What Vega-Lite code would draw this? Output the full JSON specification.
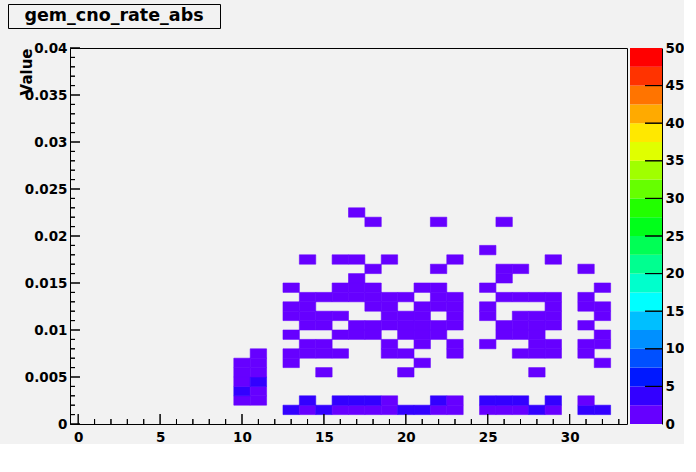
{
  "$schema": "https://vega.github.io/schema/vega-lite/v6.json",
  "background": "#f2f2f2",
  "padding": {"left": 7, "top": 3, "right": 0, "bottom": 0},
  "spacing": 12,
  "config": {
    "font": "DejaVu Sans",
    "view": {"stroke": null},
    "axis": {"grid": false, "ticks": false, "domainColor": "black", "labelColor": "black", "labelFont": "DejaVu Sans", "labelFontWeight": "bold", "labelFontSize": 13.5, "labelFlush": false, "labelOverlap": false, "domainWidth": 1}
  },
  "vconcat": [
    {
      "width": 212,
      "height": 24,
      "view": {"stroke": "black", "strokeWidth": 1, "fill": "#f2f2f2"},
      "data": {"values": [{"name": "gem_cno_rate_abs"}]},
      "mark": {"type": "text", "font": "DejaVu Sans", "fontWeight": "bold", "fontSize": 17.5, "baseline": "middle", "align": "center", "color": "black"},
      "encoding": {"text": {"field": "name", "type": "nominal"}}
    },
    {
      "spacing": 3,
      "bounds": "flush",
      "resolve": {"scale": {"color": "independent", "y": "independent", "x": "independent"}},
      "hconcat": [
        {
          "width": 59,
          "height": 376,
          "data": {"values": [{"y0": 0}, {"y0": 0.04}]},
          "mark": {"type": "tick", "opacity": 0},
          "encoding": {
            "y": {
              "field": "y0", "type": "quantitative",
              "scale": {"domain": [0, 0.04], "nice": false, "zero": false},
              "axis": {
                "orient": "left",
                "offset": -62,
                "domain": false,
                "values": [0, 0.005, 0.01, 0.015, 0.02, 0.025, 0.03, 0.035, 0.04],
                "labelExpr": "format(datum.value, '~g')",
                "labelPadding": 3,
                "title": "Value",
                "titleX": -39,
                "titleY": 0,
                "titleAngle": -90,
                "titleAlign": "right",
                "titleBaseline": "alphabetic",
                "titleFont": "DejaVu Sans",
                "titleFontWeight": "bold",
                "titleFontSize": 15,
                "titleColor": "black"
              }
            }
          }
        },
        {
          "width": 557,
          "height": 376,
          "view": {"stroke": "black", "strokeWidth": 1},
          "layer": [
            {
              "data": {"values": [
                {"x0":12.5,"x1":13.5,"y0":0.001,"y1":0.002,"v":3},
                {"x0":13.5,"x1":14.5,"y0":0.001,"y1":0.002,"v":1},
                {"x0":14.5,"x1":15.5,"y0":0.001,"y1":0.002,"v":3},
                {"x0":15.5,"x1":16.5,"y0":0.001,"y1":0.002,"v":1},
                {"x0":16.5,"x1":17.5,"y0":0.001,"y1":0.002,"v":1},
                {"x0":17.5,"x1":18.5,"y0":0.001,"y1":0.002,"v":1},
                {"x0":18.5,"x1":19.5,"y0":0.001,"y1":0.002,"v":1},
                {"x0":19.5,"x1":20.5,"y0":0.001,"y1":0.002,"v":3},
                {"x0":20.5,"x1":21.5,"y0":0.001,"y1":0.002,"v":3},
                {"x0":21.5,"x1":22.5,"y0":0.001,"y1":0.002,"v":1},
                {"x0":22.5,"x1":23.5,"y0":0.001,"y1":0.002,"v":1},
                {"x0":24.5,"x1":25.5,"y0":0.001,"y1":0.002,"v":1},
                {"x0":25.5,"x1":26.5,"y0":0.001,"y1":0.002,"v":1},
                {"x0":26.5,"x1":27.5,"y0":0.001,"y1":0.002,"v":1},
                {"x0":27.5,"x1":28.5,"y0":0.001,"y1":0.002,"v":3},
                {"x0":28.5,"x1":29.5,"y0":0.001,"y1":0.002,"v":1},
                {"x0":30.5,"x1":31.5,"y0":0.001,"y1":0.002,"v":3},
                {"x0":31.5,"x1":32.5,"y0":0.001,"y1":0.002,"v":3},
                {"x0":9.5,"x1":10.5,"y0":0.002,"y1":0.003,"v":1},
                {"x0":10.5,"x1":11.5,"y0":0.002,"y1":0.003,"v":1},
                {"x0":13.5,"x1":14.5,"y0":0.002,"y1":0.003,"v":3},
                {"x0":15.5,"x1":16.5,"y0":0.002,"y1":0.003,"v":3},
                {"x0":16.5,"x1":17.5,"y0":0.002,"y1":0.003,"v":3},
                {"x0":17.5,"x1":18.5,"y0":0.002,"y1":0.003,"v":3},
                {"x0":18.5,"x1":19.5,"y0":0.002,"y1":0.003,"v":1},
                {"x0":21.5,"x1":22.5,"y0":0.002,"y1":0.003,"v":3},
                {"x0":22.5,"x1":23.5,"y0":0.002,"y1":0.003,"v":1},
                {"x0":24.5,"x1":25.5,"y0":0.002,"y1":0.003,"v":3},
                {"x0":25.5,"x1":26.5,"y0":0.002,"y1":0.003,"v":3},
                {"x0":26.5,"x1":27.5,"y0":0.002,"y1":0.003,"v":3},
                {"x0":28.5,"x1":29.5,"y0":0.002,"y1":0.003,"v":3},
                {"x0":30.5,"x1":31.5,"y0":0.002,"y1":0.003,"v":1},
                {"x0":9.5,"x1":10.5,"y0":0.003,"y1":0.004,"v":3},
                {"x0":10.5,"x1":11.5,"y0":0.003,"y1":0.004,"v":1},
                {"x0":9.5,"x1":10.5,"y0":0.004,"y1":0.005,"v":1},
                {"x0":10.5,"x1":11.5,"y0":0.004,"y1":0.005,"v":3},
                {"x0":9.5,"x1":10.5,"y0":0.005,"y1":0.006,"v":1},
                {"x0":10.5,"x1":11.5,"y0":0.005,"y1":0.006,"v":1},
                {"x0":14.5,"x1":15.5,"y0":0.005,"y1":0.006,"v":1},
                {"x0":19.5,"x1":20.5,"y0":0.005,"y1":0.006,"v":1},
                {"x0":27.5,"x1":28.5,"y0":0.005,"y1":0.006,"v":1},
                {"x0":9.5,"x1":10.5,"y0":0.006,"y1":0.007,"v":1},
                {"x0":10.5,"x1":11.5,"y0":0.006,"y1":0.007,"v":1},
                {"x0":12.5,"x1":13.5,"y0":0.006,"y1":0.007,"v":1},
                {"x0":20.5,"x1":21.5,"y0":0.006,"y1":0.007,"v":1},
                {"x0":31.5,"x1":32.5,"y0":0.006,"y1":0.007,"v":1},
                {"x0":10.5,"x1":11.5,"y0":0.007,"y1":0.008,"v":1},
                {"x0":12.5,"x1":13.5,"y0":0.007,"y1":0.008,"v":1},
                {"x0":13.5,"x1":14.5,"y0":0.007,"y1":0.008,"v":1},
                {"x0":14.5,"x1":15.5,"y0":0.007,"y1":0.008,"v":1},
                {"x0":15.5,"x1":16.5,"y0":0.007,"y1":0.008,"v":1},
                {"x0":18.5,"x1":19.5,"y0":0.007,"y1":0.008,"v":1},
                {"x0":19.5,"x1":20.5,"y0":0.007,"y1":0.008,"v":1},
                {"x0":22.5,"x1":23.5,"y0":0.007,"y1":0.008,"v":1},
                {"x0":26.5,"x1":27.5,"y0":0.007,"y1":0.008,"v":1},
                {"x0":27.5,"x1":28.5,"y0":0.007,"y1":0.008,"v":1},
                {"x0":28.5,"x1":29.5,"y0":0.007,"y1":0.008,"v":1},
                {"x0":30.5,"x1":31.5,"y0":0.007,"y1":0.008,"v":1},
                {"x0":13.5,"x1":14.5,"y0":0.008,"y1":0.009,"v":1},
                {"x0":14.5,"x1":15.5,"y0":0.008,"y1":0.009,"v":1},
                {"x0":18.5,"x1":19.5,"y0":0.008,"y1":0.009,"v":1},
                {"x0":20.5,"x1":21.5,"y0":0.008,"y1":0.009,"v":1},
                {"x0":22.5,"x1":23.5,"y0":0.008,"y1":0.009,"v":1},
                {"x0":24.5,"x1":25.5,"y0":0.008,"y1":0.009,"v":1},
                {"x0":27.5,"x1":28.5,"y0":0.008,"y1":0.009,"v":1},
                {"x0":28.5,"x1":29.5,"y0":0.008,"y1":0.009,"v":1},
                {"x0":30.5,"x1":31.5,"y0":0.008,"y1":0.009,"v":1},
                {"x0":31.5,"x1":32.5,"y0":0.008,"y1":0.009,"v":1},
                {"x0":12.5,"x1":13.5,"y0":0.009,"y1":0.01,"v":1},
                {"x0":15.5,"x1":16.5,"y0":0.009,"y1":0.01,"v":1},
                {"x0":16.5,"x1":17.5,"y0":0.009,"y1":0.01,"v":1},
                {"x0":17.5,"x1":18.5,"y0":0.009,"y1":0.01,"v":1},
                {"x0":19.5,"x1":20.5,"y0":0.009,"y1":0.01,"v":1},
                {"x0":20.5,"x1":21.5,"y0":0.009,"y1":0.01,"v":1},
                {"x0":21.5,"x1":22.5,"y0":0.009,"y1":0.01,"v":1},
                {"x0":25.5,"x1":26.5,"y0":0.009,"y1":0.01,"v":1},
                {"x0":26.5,"x1":27.5,"y0":0.009,"y1":0.01,"v":1},
                {"x0":27.5,"x1":28.5,"y0":0.009,"y1":0.01,"v":1},
                {"x0":31.5,"x1":32.5,"y0":0.009,"y1":0.01,"v":1},
                {"x0":13.5,"x1":14.5,"y0":0.01,"y1":0.011,"v":1},
                {"x0":14.5,"x1":15.5,"y0":0.01,"y1":0.011,"v":1},
                {"x0":16.5,"x1":17.5,"y0":0.01,"y1":0.011,"v":1},
                {"x0":17.5,"x1":18.5,"y0":0.01,"y1":0.011,"v":1},
                {"x0":18.5,"x1":19.5,"y0":0.01,"y1":0.011,"v":1},
                {"x0":19.5,"x1":20.5,"y0":0.01,"y1":0.011,"v":1},
                {"x0":20.5,"x1":21.5,"y0":0.01,"y1":0.011,"v":1},
                {"x0":21.5,"x1":22.5,"y0":0.01,"y1":0.011,"v":1},
                {"x0":22.5,"x1":23.5,"y0":0.01,"y1":0.011,"v":1},
                {"x0":25.5,"x1":26.5,"y0":0.01,"y1":0.011,"v":1},
                {"x0":26.5,"x1":27.5,"y0":0.01,"y1":0.011,"v":1},
                {"x0":27.5,"x1":28.5,"y0":0.01,"y1":0.011,"v":1},
                {"x0":28.5,"x1":29.5,"y0":0.01,"y1":0.011,"v":1},
                {"x0":30.5,"x1":31.5,"y0":0.01,"y1":0.011,"v":1},
                {"x0":12.5,"x1":13.5,"y0":0.011,"y1":0.012,"v":1},
                {"x0":13.5,"x1":14.5,"y0":0.011,"y1":0.012,"v":1},
                {"x0":14.5,"x1":15.5,"y0":0.011,"y1":0.012,"v":1},
                {"x0":15.5,"x1":16.5,"y0":0.011,"y1":0.012,"v":1},
                {"x0":18.5,"x1":19.5,"y0":0.011,"y1":0.012,"v":1},
                {"x0":19.5,"x1":20.5,"y0":0.011,"y1":0.012,"v":1},
                {"x0":20.5,"x1":21.5,"y0":0.011,"y1":0.012,"v":1},
                {"x0":22.5,"x1":23.5,"y0":0.011,"y1":0.012,"v":1},
                {"x0":24.5,"x1":25.5,"y0":0.011,"y1":0.012,"v":1},
                {"x0":26.5,"x1":27.5,"y0":0.011,"y1":0.012,"v":1},
                {"x0":27.5,"x1":28.5,"y0":0.011,"y1":0.012,"v":1},
                {"x0":28.5,"x1":29.5,"y0":0.011,"y1":0.012,"v":1},
                {"x0":31.5,"x1":32.5,"y0":0.011,"y1":0.012,"v":1},
                {"x0":12.5,"x1":13.5,"y0":0.012,"y1":0.013,"v":1},
                {"x0":13.5,"x1":14.5,"y0":0.012,"y1":0.013,"v":1},
                {"x0":17.5,"x1":18.5,"y0":0.012,"y1":0.013,"v":1},
                {"x0":18.5,"x1":19.5,"y0":0.012,"y1":0.013,"v":1},
                {"x0":20.5,"x1":21.5,"y0":0.012,"y1":0.013,"v":1},
                {"x0":21.5,"x1":22.5,"y0":0.012,"y1":0.013,"v":1},
                {"x0":22.5,"x1":23.5,"y0":0.012,"y1":0.013,"v":1},
                {"x0":24.5,"x1":25.5,"y0":0.012,"y1":0.013,"v":1},
                {"x0":28.5,"x1":29.5,"y0":0.012,"y1":0.013,"v":1},
                {"x0":30.5,"x1":31.5,"y0":0.012,"y1":0.013,"v":1},
                {"x0":31.5,"x1":32.5,"y0":0.012,"y1":0.013,"v":1},
                {"x0":13.5,"x1":14.5,"y0":0.013,"y1":0.014,"v":1},
                {"x0":14.5,"x1":15.5,"y0":0.013,"y1":0.014,"v":1},
                {"x0":15.5,"x1":16.5,"y0":0.013,"y1":0.014,"v":1},
                {"x0":16.5,"x1":17.5,"y0":0.013,"y1":0.014,"v":1},
                {"x0":17.5,"x1":18.5,"y0":0.013,"y1":0.014,"v":1},
                {"x0":18.5,"x1":19.5,"y0":0.013,"y1":0.014,"v":1},
                {"x0":19.5,"x1":20.5,"y0":0.013,"y1":0.014,"v":1},
                {"x0":21.5,"x1":22.5,"y0":0.013,"y1":0.014,"v":1},
                {"x0":22.5,"x1":23.5,"y0":0.013,"y1":0.014,"v":1},
                {"x0":25.5,"x1":26.5,"y0":0.013,"y1":0.014,"v":1},
                {"x0":26.5,"x1":27.5,"y0":0.013,"y1":0.014,"v":1},
                {"x0":27.5,"x1":28.5,"y0":0.013,"y1":0.014,"v":1},
                {"x0":28.5,"x1":29.5,"y0":0.013,"y1":0.014,"v":1},
                {"x0":30.5,"x1":31.5,"y0":0.013,"y1":0.014,"v":1},
                {"x0":12.5,"x1":13.5,"y0":0.014,"y1":0.015,"v":1},
                {"x0":15.5,"x1":16.5,"y0":0.014,"y1":0.015,"v":1},
                {"x0":16.5,"x1":17.5,"y0":0.014,"y1":0.015,"v":1},
                {"x0":17.5,"x1":18.5,"y0":0.014,"y1":0.015,"v":1},
                {"x0":20.5,"x1":21.5,"y0":0.014,"y1":0.015,"v":1},
                {"x0":21.5,"x1":22.5,"y0":0.014,"y1":0.015,"v":1},
                {"x0":24.5,"x1":25.5,"y0":0.014,"y1":0.015,"v":1},
                {"x0":31.5,"x1":32.5,"y0":0.014,"y1":0.015,"v":1},
                {"x0":16.5,"x1":17.5,"y0":0.015,"y1":0.016,"v":1},
                {"x0":25.5,"x1":26.5,"y0":0.015,"y1":0.016,"v":1},
                {"x0":17.5,"x1":18.5,"y0":0.016,"y1":0.017,"v":1},
                {"x0":21.5,"x1":22.5,"y0":0.016,"y1":0.017,"v":1},
                {"x0":25.5,"x1":26.5,"y0":0.016,"y1":0.017,"v":1},
                {"x0":26.5,"x1":27.5,"y0":0.016,"y1":0.017,"v":1},
                {"x0":30.5,"x1":31.5,"y0":0.016,"y1":0.017,"v":1},
                {"x0":13.5,"x1":14.5,"y0":0.017,"y1":0.018,"v":1},
                {"x0":15.5,"x1":16.5,"y0":0.017,"y1":0.018,"v":1},
                {"x0":16.5,"x1":17.5,"y0":0.017,"y1":0.018,"v":1},
                {"x0":18.5,"x1":19.5,"y0":0.017,"y1":0.018,"v":1},
                {"x0":22.5,"x1":23.5,"y0":0.017,"y1":0.018,"v":1},
                {"x0":28.5,"x1":29.5,"y0":0.017,"y1":0.018,"v":1},
                {"x0":24.5,"x1":25.5,"y0":0.018,"y1":0.019,"v":1},
                {"x0":17.5,"x1":18.5,"y0":0.021,"y1":0.022,"v":1},
                {"x0":21.5,"x1":22.5,"y0":0.021,"y1":0.022,"v":1},
                {"x0":25.5,"x1":26.5,"y0":0.021,"y1":0.022,"v":1},
                {"x0":16.5,"x1":17.5,"y0":0.022,"y1":0.023,"v":1}
              ]},
              "mark": {"type": "rect", "strokeWidth": 0.6},
              "encoding": {
                "x": {
                  "field": "x0", "type": "quantitative",
                  "scale": {"domain": [-0.5, 33.5], "nice": false, "zero": false},
                  "axis": {"title": null, "domain": false, "values": [0, 5, 10, 15, 20, 25, 30], "labelPadding": 6}
                },
                "x2": {"field": "x1"},
                "y": {
                  "field": "y0", "type": "quantitative",
                  "scale": {"domain": [0, 0.04], "nice": false, "zero": false},
                  "axis": null
                },
                "y2": {"field": "y1"},
                "color": {
                  "field": "v", "type": "quantitative",
                  "scale": {"type": "quantize", "domain": [0, 50], "range": ["#6600ff","#3300ff","#0018ff","#0050ff","#0090ff","#00bfff","#00ffff","#00ffcc","#00ff90","#00ff55","#00ff1a","#22ff00","#66ff00","#a0ff00","#e0ff00","#ffe800","#ffaa00","#ff7400","#ff3300","#ff0000"]},
                  "legend": null
                },
                "stroke": {
                  "field": "v", "type": "quantitative",
                  "scale": {"type": "quantize", "domain": [0, 50], "range": ["#6600ff","#3300ff","#0018ff","#0050ff","#0090ff","#00bfff","#00ffff","#00ffcc","#00ff90","#00ff55","#00ff1a","#22ff00","#66ff00","#a0ff00","#e0ff00","#ffe800","#ffaa00","#ff7400","#ff3300","#ff0000"]},
                  "legend": null
                }
              }
            },
            {
              "data": {"values": [{"t":0},{"t":5},{"t":10},{"t":15},{"t":20},{"t":25},{"t":30}]},
              "mark": {"type": "rect", "fill": "black", "stroke": "black", "strokeWidth": 1},
              "encoding": {
                "x": {"field": "t", "type": "quantitative"},
                "x2": {"field": "t"},
                "y": {"datum": 0},
                "y2": {"datum": 0.00106}
              }
            },
            {
              "data": {"values": [{"t":1},{"t":2},{"t":3},{"t":4},{"t":6},{"t":7},{"t":8},{"t":9},{"t":11},{"t":12},{"t":13},{"t":14},{"t":16},{"t":17},{"t":18},{"t":19},{"t":21},{"t":22},{"t":23},{"t":24},{"t":26},{"t":27},{"t":28},{"t":29},{"t":31},{"t":32},{"t":33}]},
              "mark": {"type": "rect", "fill": "black", "stroke": "black", "strokeWidth": 1},
              "encoding": {
                "x": {"field": "t", "type": "quantitative"},
                "x2": {"field": "t"},
                "y": {"datum": 0},
                "y2": {"datum": 0.00053}
              }
            },
            {
              "data": {"values": [{"t":0},{"t":0.005},{"t":0.01},{"t":0.015},{"t":0.02},{"t":0.025},{"t":0.03},{"t":0.035},{"t":0.04}]},
              "mark": {"type": "rect", "fill": "black", "stroke": "black", "strokeWidth": 1},
              "encoding": {
                "y": {"field": "t", "type": "quantitative"},
                "y2": {"field": "t"},
                "x": {"datum": -0.5},
                "x2": {"datum": 0.11}
              }
            },
            {
              "data": {"values": [{"t":0.001},{"t":0.002},{"t":0.003},{"t":0.004},{"t":0.006},{"t":0.007},{"t":0.008},{"t":0.009},{"t":0.011},{"t":0.012},{"t":0.013},{"t":0.014},{"t":0.016},{"t":0.017},{"t":0.018},{"t":0.019},{"t":0.021},{"t":0.022},{"t":0.023},{"t":0.024},{"t":0.026},{"t":0.027},{"t":0.028},{"t":0.029},{"t":0.031},{"t":0.032},{"t":0.033},{"t":0.034},{"t":0.036},{"t":0.037},{"t":0.038},{"t":0.039}]},
              "mark": {"type": "rect", "fill": "black", "stroke": "black", "strokeWidth": 1},
              "encoding": {
                "y": {"field": "t", "type": "quantitative"},
                "y2": {"field": "t"},
                "x": {"datum": -0.5},
                "x2": {"datum": -0.195}
              }
            }
          ]
        },
        {
          "width": 32,
          "height": 376,
          "layer": [
            {
              "data": {"values": [
                {"lo":0,"hi":2.5},{"lo":2.5,"hi":5},{"lo":5,"hi":7.5},{"lo":7.5,"hi":10},
                {"lo":10,"hi":12.5},{"lo":12.5,"hi":15},{"lo":15,"hi":17.5},{"lo":17.5,"hi":20},
                {"lo":20,"hi":22.5},{"lo":22.5,"hi":25},{"lo":25,"hi":27.5},{"lo":27.5,"hi":30},
                {"lo":30,"hi":32.5},{"lo":32.5,"hi":35},{"lo":35,"hi":37.5},{"lo":37.5,"hi":40},
                {"lo":40,"hi":42.5},{"lo":42.5,"hi":45},{"lo":45,"hi":47.5},{"lo":47.5,"hi":50}
              ]},
              "mark": {"type": "rect"},
              "encoding": {
                "y": {
                  "field": "lo", "type": "quantitative",
                  "scale": {"domain": [0, 50], "nice": false, "zero": false},
                  "axis": {"orient": "right", "title": null, "values": [0,5,10,15,20,25,30,35,40,45,50], "labelPadding": 3, "tickCount": 11}
                },
                "y2": {"field": "hi"},
                "color": {
                  "field": "lo", "type": "quantitative",
                  "scale": {"type": "quantize", "domain": [0, 50], "range": ["#6600ff","#3300ff","#0018ff","#0050ff","#0090ff","#00bfff","#00ffff","#00ffcc","#00ff90","#00ff55","#00ff1a","#22ff00","#66ff00","#a0ff00","#e0ff00","#ffe800","#ffaa00","#ff7400","#ff3300","#ff0000"]},
                  "legend": null
                }
              }
            },
            {
              "data": {"values": [{"c":5},{"c":10},{"c":15},{"c":20},{"c":25},{"c":30},{"c":35},{"c":40},{"c":45}]},
              "mark": {"type": "rect", "fill": "black", "stroke": "black", "strokeWidth": 1},
              "encoding": {
                "y": {"field": "c", "type": "quantitative"},
                "y2": {"field": "c"},
                "x": {"datum": 0.47, "type": "quantitative", "scale": {"domain": [0, 1], "nice": false, "zero": false}, "axis": null},
                "x2": {"datum": 1}
              }
            }
          ]
        }
      ]
    }
  ]
}
